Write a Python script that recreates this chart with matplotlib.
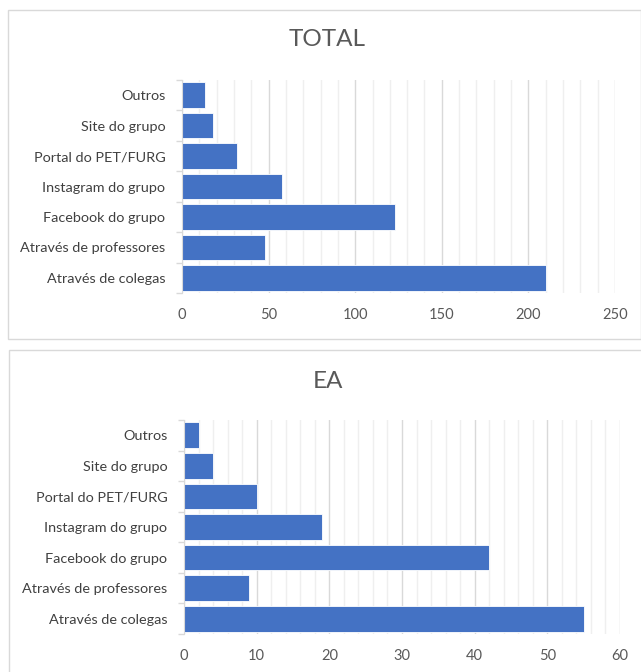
import matplotlib
matplotlib.use("Agg")
import matplotlib.pyplot as plt
from matplotlib.patches import Rectangle
from matplotlib.ticker import MultipleLocator, FixedLocator

categories = ["Através de colegas", "Através de professores", "Facebook do grupo",
              "Instagram do grupo", "Portal do PET/FURG", "Site do grupo", "Outros"]
total_values = [210, 48, 123, 58, 32, 18, 13]
ea_values = [55, 9, 42, 19, 10, 4, 2]
titles = ["TOTAL", "EA"]

plt.rcParams['font.family'] = ['Lato', 'DejaVu Sans']

W, H = 641, 672
fig = plt.figure(figsize=(W / 100, H / 100), dpi=100)
fig.patch.set_facecolor("white")

def px_rect(x0, y0, x1, y1):
    return [x0 / W, 1 - y1 / H, (x1 - x0) / W, (y1 - y0) / H]

# panel borders
for (x0, y0, x1, y1) in [(7.5, 9.5, 640.5, 338.5), (8.5, 349.5, 645, 680)]:
    fig.patches.append(Rectangle((x0 / W, 1 - y1 / H), (x1 - x0) / W, (y1 - y0) / H,
                                 transform=fig.transFigure, fill=False,
                                 edgecolor="#D9D9D9", linewidth=1.0))

panels = [
    dict(values=total_values, title=titles[0], rect=(182, 80, 615, 293), xmax=250,
         major=50, minor=10, title_xy=(327, 40)),
    dict(values=ea_values, title=titles[1], rect=(184, 420, 620, 634), xmax=60,
         major=10, minor=2, title_xy=(328, 382)),
]

for p in panels:
    ax = fig.add_axes(px_rect(*p["rect"]))
    ypos = list(range(len(categories)))
    ax.barh(ypos, p["values"], height=0.84, color="#4472C4",
            edgecolor="white", linewidth=0.6, zorder=3)
    ax.set_xlim(0, p["xmax"])
    ax.set_ylim(-0.5, len(categories) - 0.5)
    ax.xaxis.set_major_locator(MultipleLocator(p["major"]))
    ax.xaxis.set_minor_locator(MultipleLocator(p["minor"]))
    ax.grid(which="major", axis="x", color="#D9D9D9", linewidth=1.0, zorder=0)
    ax.grid(which="minor", axis="x", color="#EFEFEF", linewidth=1.0, zorder=0)
    ax.tick_params(axis="x", which="both", length=0, pad=11, labelsize=10.5,
                   labelcolor="#595959")
    # y ticks: boundaries as major tick marks, labels as minor
    ax.yaxis.set_major_locator(FixedLocator([i - 0.5 for i in range(len(categories) + 1)]))
    ax.yaxis.set_minor_locator(FixedLocator(ypos))
    ax.set_yticklabels([], minor=False)
    ax.set_yticks(ypos, minor=True)
    ax.set_yticklabels(categories, minor=True)
    ax.tick_params(axis="y", which="major", length=4, color="#D9D9D9", width=1)
    ax.tick_params(axis="y", which="minor", length=0, pad=12, labelsize=10.4,
                   labelcolor="#404040")
    for s in ["top", "right", "bottom"]:
        ax.spines[s].set_visible(False)
    ax.spines["left"].set_color("#D9D9D9")
    ax.spines["left"].set_zorder(4)
    ax.set_facecolor("white")
    fig.text(p["title_xy"][0] / W, 1 - p["title_xy"][1] / H, p["title"],
             ha="center", va="center", fontsize=17.5, fontweight="normal",
             color="#595959")

fig.savefig("out.png", dpi=100)
